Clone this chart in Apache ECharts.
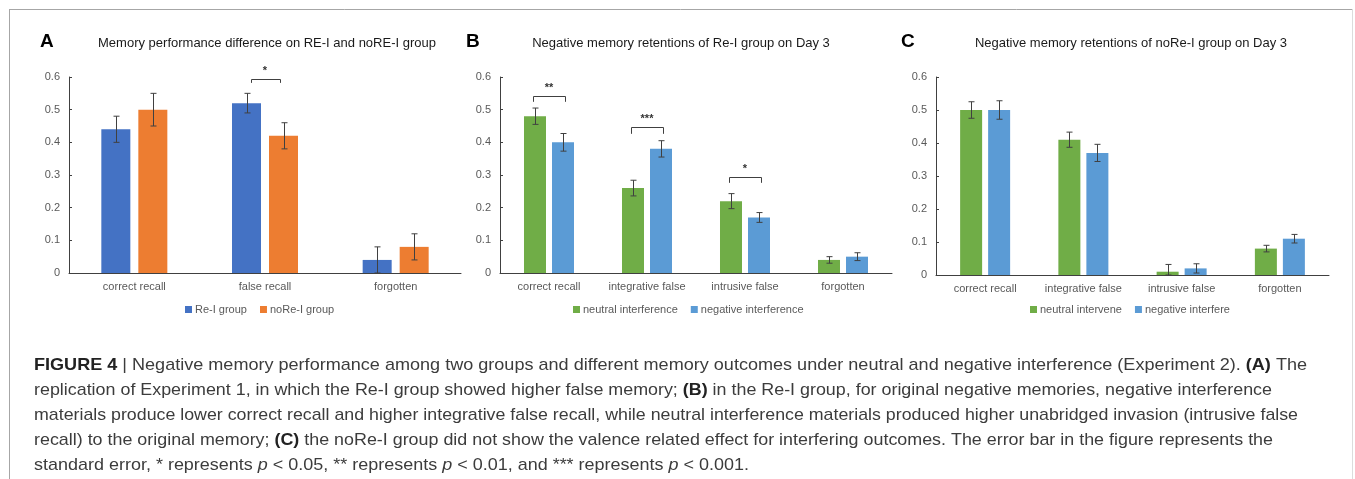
<!DOCTYPE html>
<html><head><meta charset="utf-8">
<script src="https://cdn.jsdelivr.net/npm/echarts@6/dist/echarts.min.js"></script>
<style>html,body{margin:0;padding:0;background:#fff}#c{width:1355px;height:479px}</style>
</head><body><div id="c"></div>
<script>
// ---------- data ----------
const yTickLabels = ['0', '0.1', '0.2', '0.3', '0.4', '0.5', '0.6'];

const catA = ['correct recall', 'false recall', 'forgotten'];
const reiA = [0.44, 0.52, 0.04];
const reiAErr = [0.04, 0.03, 0.04];
const noreiA = [0.50, 0.42, 0.08];
const noreiAErr = [0.05, 0.04, 0.04];

const catBC = ['correct recall', 'integrative false', 'intrusive false', 'forgotten'];
const neutralB = [0.48, 0.26, 0.22, 0.04];
const neutralBErr = [0.025, 0.024, 0.023, 0.01];
const negativeB = [0.40, 0.38, 0.17, 0.05];
const negativeBErr = [0.027, 0.025, 0.015, 0.012];

const neutralC = [0.50, 0.41, 0.01, 0.08];
const neutralCErr = [0.025, 0.023, 0.022, 0.01];
const negativeC = [0.50, 0.37, 0.02, 0.11];
const negativeCErr = [0.028, 0.026, 0.014, 0.013];

const sigACat = [1];
const sigALevel = [0.594];
const sigAFoot = [0.582];
const sigAStars = ['*'];

const sigBCat = [0, 1, 2];
const sigBLevel = [0.542, 0.447, 0.294];
const sigBFoot = [0.524, 0.426, 0.276];
const sigBStars = ['**', '***', '*'];

const titles = [
  'Memory performance difference on RE-I and noRE-I group',
  'Negative memory retentions of Re-I group on Day 3',
  'Negative memory retentions of noRe-I group on Day 3'
];
const panelLetters = ['A', 'B', 'C'];
const captionLines = [
  '{b|FIGURE 4} | Negative memory performance among two groups and different memory outcomes under neutral and negative interference (Experiment 2). {b|(A)} The',
  'replication of Experiment 1, in which the Re-I group showed higher false memory; {b|(B)} in the Re-I group, for original negative memories, negative interference',
  'materials produce lower correct recall and higher integrative false recall, while neutral interference materials produced higher unabridged invasion (intrusive false',
  'recall) to the original memory; {b|(C)} the noRe-I group did not show the valence related effect for interfering outcomes. The error bar in the figure represents the',
  'standard error, * represents {i|p} < 0.05, ** represents {i|p} < 0.01, and *** represents {i|p} < 0.001.'
];

// ---------- styles ----------
const FONT = '"Liberation Sans", Arial, sans-serif';
const AXIS_COLOR = '#404040';
const LABEL_COLOR = '#595959';
const ERR_COLOR = '#404040';
const C_BLUE = '#4472C4', C_ORANGE = '#ED7D31', C_GREEN = '#70AD47', C_LBLUE = '#5B9BD5';

const grids = [
  { left: 69, top: 77, width: 392, height: 196 },
  { left: 500, top: 77, width: 392, height: 196 },
  { left: 936, top: 77, width: 393, height: 198 }
];
const barW = [29, 22, 22];
const barGapPx = [8, 6, 6];

function xAx(i, cats) {
  return {
    gridIndex: i, type: 'category', data: cats,
    axisLine: { show: true, lineStyle: { color: AXIS_COLOR, width: 1 } },
    axisTick: { show: false },
    axisLabel: { color: LABEL_COLOR, fontSize: 11, fontFamily: FONT, margin: 8, interval: 0 },
    splitLine: { show: false }
  };
}
function yAx(i) {
  return {
    gridIndex: i, type: 'value', min: 0, max: 0.6, interval: 0.1,
    axisLine: { show: true, lineStyle: { color: AXIS_COLOR, width: 1 } },
    axisTick: { show: true, inside: true, length: 3, lineStyle: { color: AXIS_COLOR } },
    axisLabel: { color: LABEL_COLOR, fontSize: 11, fontFamily: FONT, margin: 9,
      formatter: (v) => yTickLabels[Math.round(v * 10)] },
    splitLine: { show: false }
  };
}
function bar(name, i, data, color) {
  return {
    type: 'bar', name, xAxisIndex: i, yAxisIndex: i, data,
    barWidth: barW[i], barGap: (barGapPx[i] / barW[i] * 100).toFixed(1) + '%',
    itemStyle: { color }, silent: true, z: 2
  };
}
function err(i, vals, errs, side) {
  const off = side * (barW[i] + barGapPx[i]) / 2;
  return {
    type: 'custom', name: 'err' + i + side, xAxisIndex: i, yAxisIndex: i, z: 5, silent: true, clip: false,
    data: vals.map((v, k) => [k, v, errs[k]]),
    renderItem: (params, api) => {
      const k = api.value(0), v = api.value(1), e = api.value(2);
      const pt = api.coord([k, v + e]);
      const pb = api.coord([k, Math.max(0, v - e)]);
      const x = Math.round(pt[0] + off) + 0.5;
      const st = { stroke: ERR_COLOR, lineWidth: 1 };
      return { type: 'group', children: [
        { type: 'line', shape: { x1: x, y1: pt[1], x2: x, y2: pb[1] }, style: st },
        { type: 'line', shape: { x1: x - 3, y1: pt[1], x2: x + 3, y2: pt[1] }, style: st },
        { type: 'line', shape: { x1: x - 3, y1: pb[1], x2: x + 3, y2: pb[1] }, style: st }
      ] };
    }
  };
}
function sig(i, cats, levels, foots, stars, halfW) {
  return {
    type: 'custom', name: 'sig' + i, xAxisIndex: i, yAxisIndex: i, z: 6, silent: true, clip: false,
    data: cats.map((c, k) => [c, levels[k], foots[k], k]),
    renderItem: (params, api) => {
      const c = api.value(0);
      const pl = api.coord([c, api.value(1)]);
      const pf = api.coord([c, api.value(2)]);
      const y = Math.round(pl[1]) + 0.5;
      const x1 = Math.round(pl[0] - halfW) + 0.5, x2 = Math.round(pl[0] + halfW) + 0.5;
      return { type: 'group', children: [
        { type: 'polyline', shape: { points: [[x1, pf[1]], [x1, y], [x2, y], [x2, pf[1]]] },
          style: { stroke: ERR_COLOR, lineWidth: 1, fill: null } },
        { type: 'text', style: { text: stars[api.value(3)], x: pl[0], y: y - 9,
          align: 'center', verticalAlign: 'middle', textAlign: 'center', textVerticalAlign: 'middle',
          fontSize: 11, fontWeight: 'bold', fontFamily: FONT, fill: '#333' } }
      ] };
    }
  };
}
function legend(names, left) {
  return {
    data: names, left, top: 304, orient: 'horizontal', icon: 'rect',
    itemWidth: 7, itemHeight: 7, itemGap: 13, padding: 0, selectedMode: false,
    textStyle: { color: LABEL_COLOR, fontSize: 11, fontFamily: FONT, padding: [0, 0, 0, -2] }
  };
}

// ---------- caption fitting (each line fitted to its measured right end) ----------
const CAP_SIZE = 17;
const CAP_LEFT = 34;
const capLineEnds = [1307, 1272, 1298, 1273, 749];
function plain(s) { return s.replace(/\{[a-z]\|([^}]*)\}/g, '$1'); }
function boldParts(s) { return (s.match(/\{b\|([^}]*)\}/g) || []).map(m => m.slice(3, -1)); }
const mctx = document.createElement('canvas').getContext('2d');
function lineWidth(s) {
  mctx.font = CAP_SIZE + 'px "Liberation Sans", Arial, sans-serif';
  let w = mctx.measureText(plain(s)).width;
  boldParts(s).forEach(b => {
    const wr = mctx.measureText(b).width;
    mctx.font = 'bold ' + CAP_SIZE + 'px "Liberation Sans", Arial, sans-serif';
    w += mctx.measureText(b).width - wr;
    mctx.font = CAP_SIZE + 'px "Liberation Sans", Arial, sans-serif';
  });
  return w;
}

const graphics = [
  { type: 'line', shape: { x1: 9, y1: 9.5, x2: 1352, y2: 9.5 }, style: { stroke: '#a6a6a6', lineWidth: 1 } },
  { type: 'line', shape: { x1: 9.5, y1: 9, x2: 9.5, y2: 479 }, style: { stroke: '#a6a6a6', lineWidth: 1 } },
  { type: 'line', shape: { x1: 1352.5, y1: 9, x2: 1352.5, y2: 479 }, style: { stroke: '#dcdcdc', lineWidth: 1 } }
];
const titleCX = [267, 681, 1131];
const letterX = [40, 466, 901];
titles.forEach((t, i) => {
  graphics.push({ type: 'text', x: titleCX[i], y: 43, style: { text: t, fontSize: 13, fontFamily: FONT, fill: '#1a1a1a',
    align: 'center', verticalAlign: 'middle', textAlign: 'center', textVerticalAlign: 'middle' } });
  graphics.push({ type: 'text', x: letterX[i], y: 42, style: { text: panelLetters[i], fontSize: 19, fontWeight: 'bold', fontFamily: FONT, fill: '#000',
    align: 'left', verticalAlign: 'middle', textAlign: 'left', textVerticalAlign: 'middle' } });
});
captionLines.forEach((t, k) => {
  const sx = (capLineEnds[k] - CAP_LEFT) / lineWidth(t);
  graphics.push({ type: 'text', x: CAP_LEFT, y: 365 + k * 25, scaleX: sx, scaleY: 1,
    style: { text: t, fontSize: CAP_SIZE, fontFamily: FONT, fill: '#3c3c3c',
      align: 'left', verticalAlign: 'middle', textAlign: 'left', textVerticalAlign: 'middle',
      rich: { b: { fontWeight: 'bold', fontSize: CAP_SIZE, fontFamily: FONT, fill: '#222' },
              i: { fontStyle: 'italic', fontSize: CAP_SIZE, fontFamily: FONT, fill: '#3c3c3c' } } } });
});

const chart = echarts.init(document.getElementById('c'), null, { renderer: 'canvas' });
chart.setOption({
  animation: false,
  backgroundColor: '#fff',
  textStyle: { fontFamily: FONT },
  grid: grids,
  xAxis: [xAx(0, catA), xAx(1, catBC), xAx(2, catBC)],
  yAxis: [yAx(0), yAx(1), yAx(2)],
  legend: [
    legend(['Re-I group', 'noRe-I group'], 185),
    legend(['neutral interference', 'negative interference'], 573),
    legend(['neutral intervene', 'negative interfere'], 1030)
  ],
  series: [
    bar('Re-I group', 0, reiA, C_BLUE),
    bar('noRe-I group', 0, noreiA, C_ORANGE),
    bar('neutral interference', 1, neutralB, C_GREEN),
    bar('negative interference', 1, negativeB, C_LBLUE),
    bar('neutral intervene', 2, neutralC, C_GREEN),
    bar('negative interfere', 2, negativeC, C_LBLUE),
    err(0, reiA, reiAErr, -1), err(0, noreiA, noreiAErr, 1),
    err(1, neutralB, neutralBErr, -1), err(1, negativeB, negativeBErr, 1),
    err(2, neutralC, neutralCErr, -1), err(2, negativeC, negativeCErr, 1),
    sig(0, sigACat, sigALevel, sigAFoot, sigAStars, 14.5),
    sig(1, sigBCat, sigBLevel, sigBFoot, sigBStars, 16)
  ],
  graphic: graphics
});
</script></body></html>
